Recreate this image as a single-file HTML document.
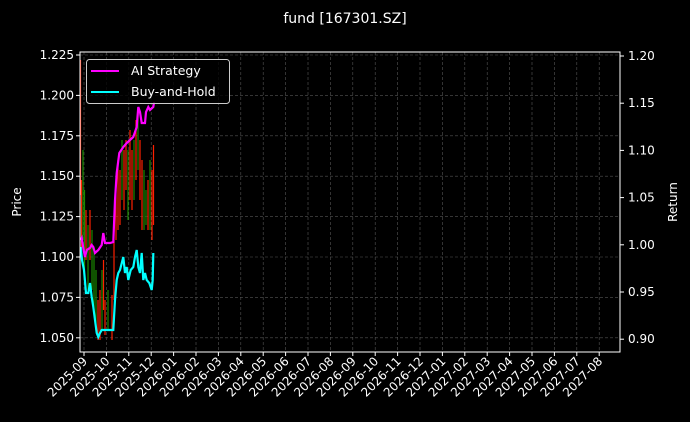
<!DOCTYPE html>
<html><head><meta charset="utf-8"><style>
body{margin:0;background:#000;}
svg{display:block;font-family:"DejaVu Sans","Liberation Sans",sans-serif;}
</style></head><body>
<svg width="690" height="422" viewBox="0 0 690 422" xmlns="http://www.w3.org/2000/svg">
<rect width="690" height="422" fill="#000"/>
<text x="345" y="23" fill="#fff" font-size="14" text-anchor="middle">fund [167301.SZ]</text>
<g stroke="#555" stroke-width="0.6" stroke-dasharray="3,2">
<line x1="80" x2="620" y1="55" y2="55"/><line x1="80" x2="620" y1="95.4" y2="95.4"/><line x1="80" x2="620" y1="135.8" y2="135.8"/><line x1="80" x2="620" y1="176.2" y2="176.2"/><line x1="80" x2="620" y1="216.6" y2="216.6"/><line x1="80" x2="620" y1="257" y2="257"/><line x1="80" x2="620" y1="297.4" y2="297.4"/><line x1="80" x2="620" y1="337.8" y2="337.8"/>
<line x1="84" x2="84" y1="52" y2="352"/><line x1="106.4" x2="106.4" y1="52" y2="352"/><line x1="128.8" x2="128.8" y1="52" y2="352"/><line x1="151.2" x2="151.2" y1="52" y2="352"/><line x1="173.6" x2="173.6" y1="52" y2="352"/><line x1="196" x2="196" y1="52" y2="352"/><line x1="218.4" x2="218.4" y1="52" y2="352"/><line x1="240.8" x2="240.8" y1="52" y2="352"/><line x1="263.2" x2="263.2" y1="52" y2="352"/><line x1="285.6" x2="285.6" y1="52" y2="352"/><line x1="308" x2="308" y1="52" y2="352"/><line x1="330.4" x2="330.4" y1="52" y2="352"/><line x1="352.8" x2="352.8" y1="52" y2="352"/><line x1="375.2" x2="375.2" y1="52" y2="352"/><line x1="397.6" x2="397.6" y1="52" y2="352"/><line x1="420" x2="420" y1="52" y2="352"/><line x1="442.4" x2="442.4" y1="52" y2="352"/><line x1="464.8" x2="464.8" y1="52" y2="352"/><line x1="487.2" x2="487.2" y1="52" y2="352"/><line x1="509.6" x2="509.6" y1="52" y2="352"/><line x1="532" x2="532" y1="52" y2="352"/><line x1="554.4" x2="554.4" y1="52" y2="352"/><line x1="576.8" x2="576.8" y1="52" y2="352"/><line x1="599.2" x2="599.2" y1="52" y2="352"/>
</g>
<g stroke-width="1.2">
<line x1="80.5" x2="80.5" y1="60" y2="195" stroke="#ff2000"/><line x1="81.5" x2="81.5" y1="180" y2="250" stroke="#ff2000"/><line x1="83" x2="83" y1="150" y2="240" stroke="#1a8a00"/><line x1="84.5" x2="84.5" y1="190" y2="270" stroke="#1a8a00"/><line x1="86" x2="86" y1="210" y2="260" stroke="#ff2000"/><line x1="88" x2="88" y1="225" y2="290" stroke="#1a8a00"/><line x1="90" x2="90" y1="210" y2="260" stroke="#ff2000"/><line x1="92" x2="92" y1="230" y2="290" stroke="#1a8a00"/><line x1="94" x2="94" y1="250" y2="310" stroke="#1a8a00"/><line x1="96" x2="96" y1="270" y2="330" stroke="#1a8a00"/><line x1="98" x2="98" y1="300" y2="340" stroke="#ff2000"/><line x1="100" x2="100" y1="290" y2="340" stroke="#ff2000"/><line x1="102" x2="102" y1="270" y2="330" stroke="#1a8a00"/><line x1="103.5" x2="103.5" y1="260" y2="310" stroke="#ff2000"/><line x1="105" x2="105" y1="300" y2="335" stroke="#ff2000"/><line x1="108" x2="108" y1="290" y2="330" stroke="#1a8a00"/><line x1="112" x2="112" y1="295" y2="340" stroke="#ff2000"/><line x1="114" x2="114" y1="240" y2="300" stroke="#ff2000"/><line x1="116" x2="116" y1="190" y2="240" stroke="#ff2000"/><line x1="118" x2="118" y1="160" y2="230" stroke="#ff2000"/><line x1="120" x2="120" y1="170" y2="225" stroke="#ff2000"/><line x1="122" x2="122" y1="140" y2="200" stroke="#1a8a00"/><line x1="124" x2="124" y1="150" y2="210" stroke="#ff2000"/><line x1="126" x2="126" y1="140" y2="190" stroke="#ff2000"/><line x1="128" x2="128" y1="150" y2="220" stroke="#1a8a00"/><line x1="130" x2="130" y1="130" y2="200" stroke="#ff2000"/><line x1="132" x2="132" y1="150" y2="210" stroke="#ff2000"/><line x1="134" x2="134" y1="140" y2="200" stroke="#1a8a00"/><line x1="136" x2="136" y1="120" y2="180" stroke="#ff2000"/><line x1="138" x2="138" y1="110" y2="170" stroke="#1a8a00"/><line x1="140" x2="140" y1="140" y2="200" stroke="#ff2000"/><line x1="142" x2="142" y1="160" y2="230" stroke="#ff2000"/><line x1="144" x2="144" y1="170" y2="230" stroke="#1a8a00"/><line x1="146" x2="146" y1="190" y2="225" stroke="#1a8a00"/><line x1="148" x2="148" y1="180" y2="230" stroke="#ff2000"/><line x1="150" x2="150" y1="160" y2="230" stroke="#1a8a00"/><line x1="152" x2="152" y1="170" y2="240" stroke="#ff2000"/><line x1="153.5" x2="153.5" y1="145" y2="225" stroke="#ff2000"/>
</g>
<polyline fill="none" stroke="#ff00ff" stroke-width="2.2" points="80.7,240 81.7,238 83.3,248 85,257 86.7,250 90,248 91.7,245 93.3,247 95,253 98.3,250 101.7,245 103.3,233 105,243 110,243 113.3,242 115,200 116.7,173 119.3,153 123.3,147 126.7,143 130,140 133.3,137 136.7,127 138.3,107 140,112 141.7,123 145,123 146,112 148.3,107 150,110 153.3,107 154,102"/>
<polyline fill="none" stroke="#00ffff" stroke-width="2.2" points="80.7,247 82,260 84,270 86,293 88.3,293 90,283 91.7,297 93.3,307 95,320 96.7,333 98.3,337 100,333 101.7,330 103.3,330 106.7,330 110,330 113.3,330 115,300 116.7,280 118.3,273 120,270 123.3,257 125,273 126.7,267 128.3,280 130.7,270 133.3,267 135,257 136.7,250 138.3,267 140,273 141.7,253 143.3,280 145,273 146.7,280 149.3,283 151.7,290 152.7,280 153.3,253"/>
<rect x="80" y="52" width="540" height="300" fill="none" stroke="#fff" stroke-width="1"/>
<g fill="#fff" font-size="12" text-anchor="end">
<text x="74" y="59">1.225</text><text x="74" y="99.4">1.200</text><text x="74" y="139.8">1.175</text><text x="74" y="180.2">1.150</text><text x="74" y="220.6">1.125</text><text x="74" y="261">1.100</text><text x="74" y="301.4">1.075</text><text x="74" y="341.8">1.050</text>
</g>
<g stroke="#fff" stroke-width="1">
<line x1="76" x2="80" y1="55" y2="55"/><line x1="76" x2="80" y1="95.4" y2="95.4"/><line x1="76" x2="80" y1="135.8" y2="135.8"/><line x1="76" x2="80" y1="176.2" y2="176.2"/><line x1="76" x2="80" y1="216.6" y2="216.6"/><line x1="76" x2="80" y1="257" y2="257"/><line x1="76" x2="80" y1="297.4" y2="297.4"/><line x1="76" x2="80" y1="337.8" y2="337.8"/>
<line x1="620" x2="624" y1="56" y2="56"/><line x1="620" x2="624" y1="103.2" y2="103.2"/><line x1="620" x2="624" y1="150.4" y2="150.4"/><line x1="620" x2="624" y1="197.6" y2="197.6"/><line x1="620" x2="624" y1="244.8" y2="244.8"/><line x1="620" x2="624" y1="292" y2="292"/><line x1="620" x2="624" y1="339.2" y2="339.2"/>
<line x1="84" x2="84" y1="352" y2="356"/><line x1="106.4" x2="106.4" y1="352" y2="356"/><line x1="128.8" x2="128.8" y1="352" y2="356"/><line x1="151.2" x2="151.2" y1="352" y2="356"/><line x1="173.6" x2="173.6" y1="352" y2="356"/><line x1="196" x2="196" y1="352" y2="356"/><line x1="218.4" x2="218.4" y1="352" y2="356"/><line x1="240.8" x2="240.8" y1="352" y2="356"/><line x1="263.2" x2="263.2" y1="352" y2="356"/><line x1="285.6" x2="285.6" y1="352" y2="356"/><line x1="308" x2="308" y1="352" y2="356"/><line x1="330.4" x2="330.4" y1="352" y2="356"/><line x1="352.8" x2="352.8" y1="352" y2="356"/><line x1="375.2" x2="375.2" y1="352" y2="356"/><line x1="397.6" x2="397.6" y1="352" y2="356"/><line x1="420" x2="420" y1="352" y2="356"/><line x1="442.4" x2="442.4" y1="352" y2="356"/><line x1="464.8" x2="464.8" y1="352" y2="356"/><line x1="487.2" x2="487.2" y1="352" y2="356"/><line x1="509.6" x2="509.6" y1="352" y2="356"/><line x1="532" x2="532" y1="352" y2="356"/><line x1="554.4" x2="554.4" y1="352" y2="356"/><line x1="576.8" x2="576.8" y1="352" y2="356"/><line x1="599.2" x2="599.2" y1="352" y2="356"/>
</g>
<g fill="#fff" font-size="12">
<text x="628" y="60">1.20</text><text x="628" y="107.2">1.15</text><text x="628" y="154.4">1.10</text><text x="628" y="201.6">1.05</text><text x="628" y="248.8">1.00</text><text x="628" y="296">0.95</text><text x="628" y="343.2">0.90</text>
</g>
<text transform="translate(21,202) rotate(-90)" fill="#fff" font-size="12" text-anchor="middle">Price</text>
<text transform="translate(677,202) rotate(-90)" fill="#fff" font-size="12" text-anchor="middle">Return</text>
<g fill="#fff" font-size="12" text-anchor="end">
<text transform="translate(88,362) rotate(-45)">2025-09</text><text transform="translate(110.4,362) rotate(-45)">2025-10</text><text transform="translate(132.8,362) rotate(-45)">2025-11</text><text transform="translate(155.2,362) rotate(-45)">2025-12</text><text transform="translate(177.6,362) rotate(-45)">2026-01</text><text transform="translate(200,362) rotate(-45)">2026-02</text><text transform="translate(222.4,362) rotate(-45)">2026-03</text><text transform="translate(244.8,362) rotate(-45)">2026-04</text><text transform="translate(267.2,362) rotate(-45)">2026-05</text><text transform="translate(289.6,362) rotate(-45)">2026-06</text><text transform="translate(312,362) rotate(-45)">2026-07</text><text transform="translate(334.4,362) rotate(-45)">2026-08</text><text transform="translate(356.8,362) rotate(-45)">2026-09</text><text transform="translate(379.2,362) rotate(-45)">2026-10</text><text transform="translate(401.6,362) rotate(-45)">2026-11</text><text transform="translate(424,362) rotate(-45)">2026-12</text><text transform="translate(446.4,362) rotate(-45)">2027-01</text><text transform="translate(468.8,362) rotate(-45)">2027-02</text><text transform="translate(491.2,362) rotate(-45)">2027-03</text><text transform="translate(513.6,362) rotate(-45)">2027-04</text><text transform="translate(536,362) rotate(-45)">2027-05</text><text transform="translate(558.4,362) rotate(-45)">2027-06</text><text transform="translate(580.8,362) rotate(-45)">2027-07</text><text transform="translate(603.2,362) rotate(-45)">2027-08</text>
</g>
<rect x="86.5" y="59.5" width="143" height="44" rx="3" fill="#000" fill-opacity="0.8" stroke="#ccc" stroke-width="1"/>
<line x1="91" x2="119" y1="71" y2="71" stroke="#ff00ff" stroke-width="2"/>
<line x1="91" x2="119" y1="92" y2="92" stroke="#00ffff" stroke-width="2"/>
<g fill="#fff" font-size="12.5"><text x="131" y="75">AI Strategy</text><text x="131" y="96">Buy-and-Hold</text></g>
</svg>
</body></html>
